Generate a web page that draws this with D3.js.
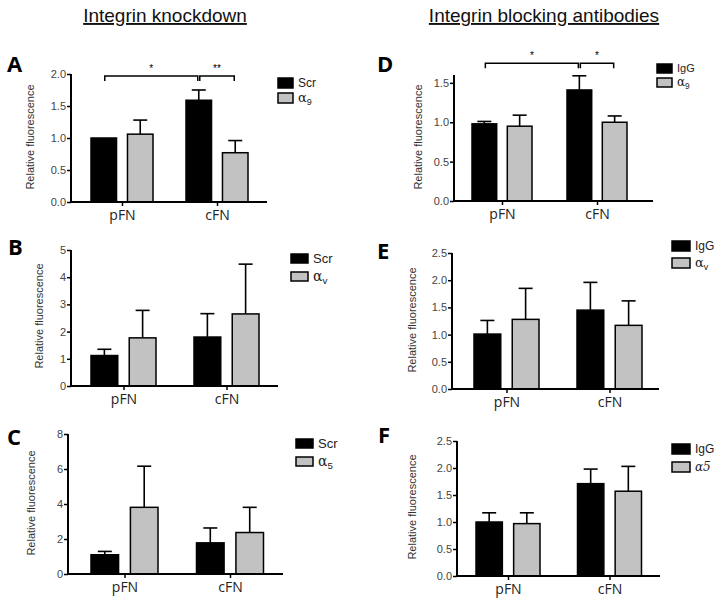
<!DOCTYPE html>
<html><head><meta charset="utf-8">
<script src="https://cdn.jsdelivr.net/npm/d3@7"></script>
<style>body{margin:0;background:#fff} svg{display:block}</style>
</head><body>
<svg id="c" width="724" height="605"></svg>
<script>
// ---------------- DATA ----------------
const groups = ["pFN", "cFN"];
const titles = ["Integrin knockdown", "Integrin blocking antibodies"];
const yLabel = "Relative fluorescence";

// Panel A
const aSeries = ["Scr", "α_9"];
const aCtrl = [1.00, 1.59], aCtrlErr = [0.00, 0.16];
const aTrt = [1.06, 0.77], aTrtErr = [0.22, 0.19];
const aTicks = [0, 0.5, 1.0, 1.5, 2.0];
const aBrackets = [["pFN", 0, "cFN", 0, "*"], ["cFN", 0, "cFN", 1, "**"]];

// Panel B
const bSeries = ["Scr", "α_v"];
const bCtrl = [1.12, 1.80], bCtrlErr = [0.23, 0.86];
const bTrt = [1.77, 2.65], bTrtErr = [1.01, 1.83];
const bTicks = [0, 1, 2, 3, 4, 5];

// Panel C
const cSeries = ["Scr", "α_5"];
const cCtrl = [1.10, 1.78], cCtrlErr = [0.19, 0.85];
const cTrt = [3.81, 2.37], cTrtErr = [2.35, 1.44];
const cTicks = [0, 2, 4, 6, 8];

// Panel D
const dSeries = ["IgG", "α_9"];
const dCtrl = [0.98, 1.41], dCtrlErr = [0.03, 0.18];
const dTrt = [0.95, 1.00], dTrtErr = [0.14, 0.08];
const dTicks = [0, 0.5, 1.0, 1.5];
const dBrackets = [["pFN", 0, "cFN", 0, "*"], ["cFN", 0, "cFN", 1, "*"]];

// Panel E
const eSeries = ["IgG", "α_v"];
const eCtrl = [1.01, 1.45], eCtrlErr = [0.25, 0.51];
const eTrt = [1.28, 1.17], eTrtErr = [0.57, 0.45];
const eTicks = [0, 0.5, 1.0, 1.5, 2.0, 2.5];

// Panel F
const fSeries = ["IgG", "α5"];
const fCtrl = [1.00, 1.71], fCtrlErr = [0.17, 0.27];
const fTrt = [0.97, 1.57], fTrtErr = [0.20, 0.46];
const fTicks = [0, 0.5, 1.0, 1.5, 2.0, 2.5];

// ---------------- LAYOUT ----------------
const panels = [
  {id:"A", series:aSeries, ctrl:aCtrl, ctrlErr:aCtrlErr, trt:aTrt, trtErr:aTrtErr, ticks:aTicks, max:2, fmt:".1f", brackets:aBrackets,
   x0:71, x1:267, y0:202, y1:74, c:[122,217], half:31, letter:[7,72], ylab:[30,137], leg:[278,78,15,10,15], legFont:12, bracketVal:1.97},
  {id:"B", series:bSeries, ctrl:bCtrl, ctrlErr:bCtrlErr, trt:bTrt, trtErr:bTrtErr, ticks:bTicks, max:5, fmt:"d", brackets:[],
   x0:71, x1:278, y0:386, y1:250, c:[123.5,226.5], half:32.5, letter:[8,255], ylab:[39,316], leg:[291,254,17,9,18], legFont:13},
  {id:"C", series:cSeries, ctrl:cCtrl, ctrlErr:cCtrlErr, trt:cTrt, trtErr:cTrtErr, ticks:cTicks, max:8, fmt:"d", brackets:[],
   x0:68, x1:283, y0:574, y1:434, c:[124.5,230], half:33.5, letter:[7,445], ylab:[31,503], leg:[296,439,17,9,18], legFont:13},
  {id:"D", series:dSeries, ctrl:dCtrl, ctrlErr:dCtrlErr, trt:dTrt, trtErr:dTrtErr, ticks:dTicks, max:1.6, fmt:".1f", brackets:dBrackets,
   x0:454, x1:653, y0:201, y1:75, c:[502,597], half:30, letter:[377,72], ylab:[418,137], leg:[657,64,15,9,14], legFont:11, bracketVal:1.75},
  {id:"E", series:eSeries, ctrl:eCtrl, ctrlErr:eCtrlErr, trt:eTrt, trtErr:eTrtErr, ticks:eTicks, max:2.5, fmt:".1f", brackets:[],
   x0:452, x1:659, y0:389, y1:253, c:[506.5,609.5], half:32.5, letter:[377,259], ylab:[412,320], leg:[672,241,18,10,17], legFont:12},
  {id:"F", series:fSeries, ctrl:fCtrl, ctrlErr:fCtrlErr, trt:fTrt, trtErr:fTrtErr, ticks:fTicks, max:2.5, fmt:".1f", brackets:[],
   x0:457, x1:660, y0:576, y1:441, c:[508,609.5], half:32, letter:[378,443], ylab:[412,507], leg:[672,444,18,10,18], legFont:12}
];

const svg = d3.select("#c");
const GRAY = "#c2c2c2";

// Titles
const titleX = [165, 544];
titles.forEach((t, i) => {
  const tx = svg.append("text").attr("x", titleX[i]).attr("y", 22)
    .attr("text-anchor", "middle")
    .attr("font-family", "Liberation Sans, Arial, sans-serif")
    .attr("font-size", 19).attr("fill", "#111")
    .attr("text-decoration", "underline")
    .text(t);
});

function addLabel(sel, label, size) {
  const parts = label.split("_");
  if (parts.length > 1) {
    sel.append("tspan").attr("font-family", "DejaVu Serif, serif").attr("font-size", size + 1).text(parts[0]);
    sel.append("tspan").attr("font-size", size * 0.75).attr("dy", 3).text(parts[1]);
  } else if (label.startsWith("α")) {
    sel.attr("font-family", "DejaVu Serif, serif").attr("font-style", "italic").text(label);
  } else {
    sel.text(label);
  }
}

panels.forEach(p => {
  const g = svg.append("g");
  const y = d3.scaleLinear().domain([0, p.max]).range([p.y0, p.y1]);
  const x = d3.scalePoint().domain(groups).range(p.c);
  const inner = d3.scaleBand().domain([0, 1]).range([-p.half, p.half]).paddingInner(0.3);
  const bw = inner.bandwidth();

  // panel letter
  g.append("text").attr("x", p.letter[0]).attr("y", p.letter[1])
    .attr("font-family", "Open Sans, Arial, sans-serif").attr("font-weight", "bold")
    .attr("font-size", 22).attr("fill", "#000").text(p.id);

  // y label
  g.append("text").attr("transform", `translate(${p.ylab[0]},${p.ylab[1]}) rotate(-90)`)
    .attr("text-anchor", "middle").attr("dy", "0.35em")
    .attr("font-family", "Liberation Sans, Arial, sans-serif").attr("font-size", 11).attr("fill", "#333")
    .text(yLabel);

  // data rows
  const rows = [];
  groups.forEach((grp, gi) => {
    rows.push({grp, s:0, v:p.ctrl[gi], e:p.ctrlErr[gi]});
    rows.push({grp, s:1, v:p.trt[gi], e:p.trtErr[gi]});
  });

  // error bars (drawn behind bars)
  rows.filter(r => r.e > 0).forEach(r => {
    const cx = x(r.grp) + inner(r.s) + bw / 2;
    g.append("line").attr("x1", cx).attr("x2", cx).attr("y1", y(r.v)).attr("y2", y(r.v + r.e))
      .attr("stroke", "#000").attr("stroke-width", 1.6);
    g.append("line").attr("x1", cx - 7).attr("x2", cx + 7).attr("y1", y(r.v + r.e)).attr("y2", y(r.v + r.e))
      .attr("stroke", "#000").attr("stroke-width", 1.6);
  });

  // bars
  g.selectAll("rect.bar").data(rows).join("rect").attr("class", "bar")
    .attr("x", d => x(d.grp) + inner(d.s))
    .attr("y", d => y(d.v))
    .attr("width", bw)
    .attr("height", d => y(0) - y(d.v))
    .attr("fill", d => d.s === 0 ? "#000" : GRAY)
    .attr("stroke", "#000").attr("stroke-width", 1.5);

  // y axis
  const ya = d3.axisLeft(y).tickValues(p.ticks).tickFormat(d3.format(p.fmt)).tickSize(4).tickSizeOuter(0).tickPadding(1);
  const yg = g.append("g").attr("transform", `translate(${p.x0},0)`).call(ya);
  yg.select(".domain").remove();
  yg.selectAll(".tick line").attr("stroke", "#000").attr("stroke-width", 1.5);
  yg.selectAll(".tick text").attr("font-family", "Liberation Sans, Arial, sans-serif").attr("font-size", 11).attr("fill", "#444");
  g.append("line").attr("x1", p.x0).attr("x2", p.x0).attr("y1", p.y1).attr("y2", p.y0 + 0.75)
    .attr("stroke", "#000").attr("stroke-width", 2);

  // x axis
  const xa = d3.axisBottom(x).tickSize(4).tickSizeOuter(0).tickPadding(4);
  const xg = g.append("g").attr("transform", `translate(0,${p.y0})`).call(xa);
  xg.select(".domain").remove();
  xg.selectAll(".tick line").attr("stroke", "#000").attr("stroke-width", 1.5);
  xg.selectAll(".tick text").attr("font-family", "Open Sans, Arial, sans-serif").attr("font-size", 14).attr("fill", "#222");
  g.append("line").attr("x1", p.x0 - 1).attr("x2", p.x1).attr("y1", p.y0).attr("y2", p.y0)
    .attr("stroke", "#000").attr("stroke-width", 2);

  // legend
  const [lx, ly, lw, lh, lgap] = p.leg;
  p.series.forEach((s, i) => {
    g.append("rect").attr("x", lx).attr("y", ly + i * lgap).attr("width", lw).attr("height", lh)
      .attr("fill", i === 0 ? "#000" : GRAY).attr("stroke", "#000").attr("stroke-width", 1.5);
    const t = g.append("text").attr("x", lx + lw + 5).attr("y", ly + i * lgap + lh / 2).attr("dy", "0.35em")
      .attr("font-family", "Liberation Sans, Arial, sans-serif").attr("font-size", p.legFont).attr("fill", "#222");
    addLabel(t, s, p.legFont);
  });

  // significance brackets
  p.brackets.forEach(b => {
    const xa1 = x(b[0]) + inner(b[1]) + bw / 2;
    const xa2 = x(b[2]) + inner(b[3]) + bw / 2;
    const by = y(p.bracketVal);
    g.append("path").attr("d", `M${xa1 + 1},${by + 5}V${by}H${xa2 - 1}V${by + 5}`)
      .attr("fill", "none").attr("stroke", "#000").attr("stroke-width", 1.5);
    g.append("text").attr("x", (xa1 + xa2) / 2).attr("y", by - 4).attr("text-anchor", "middle")
      .attr("font-family", "Liberation Sans, Arial, sans-serif").attr("font-size", 10).attr("fill", "#000")
      .text(b[4]);
  });
});
</script>
</body></html>
